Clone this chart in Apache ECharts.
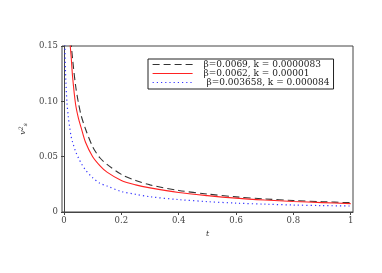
<!DOCTYPE html>
<html>
<head>
<meta charset="utf-8">
<script src="https://cdn.jsdelivr.net/npm/echarts@6/dist/echarts.min.js"></script>
<style>html,body{margin:0;padding:0;background:#fff}#c{width:382px;height:273px}</style>
</head>
<body>
<div id="c"></div>
<script>
const seriesNames = ['β=0.0069, k = 0.0000083', 'β=0.0062, k = 0.00001', ' β=0.003658, k = 0.000084'];
const xTicks = [0, 0.2, 0.4, 0.6, 0.8, 1];
const yTicks = [0, 0.05, 0.10, 0.15];

const tBlack = [0.015, 0.02, 0.025, 0.03, 0.04, 0.05, 0.06, 0.075, 0.1, 0.125, 0.15, 0.2, 0.25, 0.3, 0.4, 0.5, 0.6, 0.7, 0.8, 0.9, 1.0];
const vBlack = [0.195, 0.168, 0.152, 0.138, 0.115, 0.099, 0.087, 0.075, 0.059, 0.049, 0.043, 0.034, 0.0285, 0.0245, 0.0195, 0.0162, 0.0137, 0.0118, 0.0104, 0.0093, 0.0084];

const tRed = [0.012, 0.015, 0.02, 0.025, 0.03, 0.04, 0.05, 0.06, 0.075, 0.1, 0.125, 0.15, 0.2, 0.25, 0.3, 0.4, 0.5, 0.6, 0.7, 0.8, 0.9, 1.0];
const vRed = [0.21, 0.18, 0.156, 0.14, 0.122, 0.098, 0.085, 0.076, 0.063, 0.050, 0.042, 0.036, 0.0285, 0.0245, 0.0218, 0.0176, 0.0148, 0.0125, 0.0108, 0.0095, 0.0085, 0.0076];

const tBlue = [0.002, 0.003, 0.005, 0.01, 0.015, 0.02, 0.025, 0.03, 0.04, 0.05, 0.06, 0.075, 0.1, 0.125, 0.15, 0.2, 0.25, 0.3, 0.4, 0.5, 0.6, 0.7, 0.8, 0.9, 1.0];
const vBlue = [0.17, 0.15, 0.128, 0.100, 0.086, 0.076, 0.068, 0.063, 0.055, 0.049, 0.044, 0.038, 0.031, 0.026, 0.0235, 0.0185, 0.016, 0.0138, 0.0112, 0.0094, 0.0080, 0.0071, 0.0063, 0.0058, 0.0054];

const zip = (a, b) => a.map((x, i) => [x, b[i]]);
const font = '"DejaVu Serif", "Liberation Serif", serif';

const chart = echarts.init(document.getElementById('c'));
chart.setOption({
  animation: false,
  backgroundColor: '#fff',
  grid: { left: 62, right: 29, top: 46, bottom: 61, show: true, borderColor: '#444', borderWidth: 1, backgroundColor: 'transparent' },
  legend: {
    orient: 'vertical', left: 148, top: 59,
    itemWidth: 40, itemHeight: 9, itemGap: 0,
    padding: [1, 4, 2, 4],
    borderColor: '#222', borderWidth: 1, backgroundColor: '#fff',
    itemStyle: { opacity: 0 },
    lineStyle: { width: 1.2 },
    textStyle: { fontFamily: font, fontSize: 9, lineHeight: 9, color: '#222', padding: [0, 0, 0, 6] },
    data: seriesNames
  },
  xAxis: {
    type: 'value', min: -0.007, max: 1.008,
    name: 't', nameLocation: 'middle', nameGap: 14,
    nameTextStyle: { fontFamily: font, fontStyle: 'italic', fontSize: 8, color: '#333' },
    axisLine: { show: true, onZero: false, lineStyle: { color: '#444', width: 1 } },
    axisTick: { show: true, customValues: xTicks, length: 3, lineStyle: { color: '#444' } },
    axisLabel: { customValues: xTicks, margin: 4, fontFamily: font, fontSize: 8.5, color: '#444',
      formatter: v => (v === 0 ? '0' : v === 1 ? '1' : v.toFixed(1)) },
    splitLine: { show: false }
  },
  yAxis: {
    type: 'value', min: 0, max: 0.15,
    name: 'v{sup|2}{sub|s}', nameLocation: 'middle', nameGap: 34, nameRotate: 90,
    nameTextStyle: { fontFamily: font, fontStyle: 'italic', fontSize: 8, color: '#333',
      rich: { sup: { fontSize: 6, verticalAlign: 'top', padding: [0, 0, 4, 0], fontFamily: font, color: '#333' },
              sub: { fontSize: 6, verticalAlign: 'bottom', padding: [4, 0, 0, 0], fontFamily: font, fontStyle: 'italic', color: '#333' } } },
    axisLine: { show: true, lineStyle: { color: '#444', width: 1 } },
    axisTick: { show: true, customValues: yTicks, length: 3, lineStyle: { color: '#444' } },
    axisLabel: { customValues: yTicks, margin: 4, fontFamily: font, fontSize: 8.5, color: '#444',
      formatter: v => (v === 0 ? '0' : v.toFixed(2)) },
    splitLine: { show: false }
  },
  series: [
    { name: seriesNames[0], type: 'line', data: zip(tBlack, vBlack), smooth: 0.3, symbol: 'none', clip: true,
      lineStyle: { color: '#333', width: 1.1, type: [7, 4] }, itemStyle: { color: '#333' } },
    { name: seriesNames[1], type: 'line', data: zip(tRed, vRed), smooth: 0.3, symbol: 'none', clip: true,
      lineStyle: { color: '#f22', width: 1.1 }, itemStyle: { color: '#f22' } },
    { name: seriesNames[2], type: 'line', data: zip(tBlue, vBlue), smooth: 0.3, symbol: 'none', clip: true,
      lineStyle: { color: '#33f', width: 1.2, type: [1.2, 3] }, itemStyle: { color: '#33f' } }
  ]
});
</script>
</body>
</html>
